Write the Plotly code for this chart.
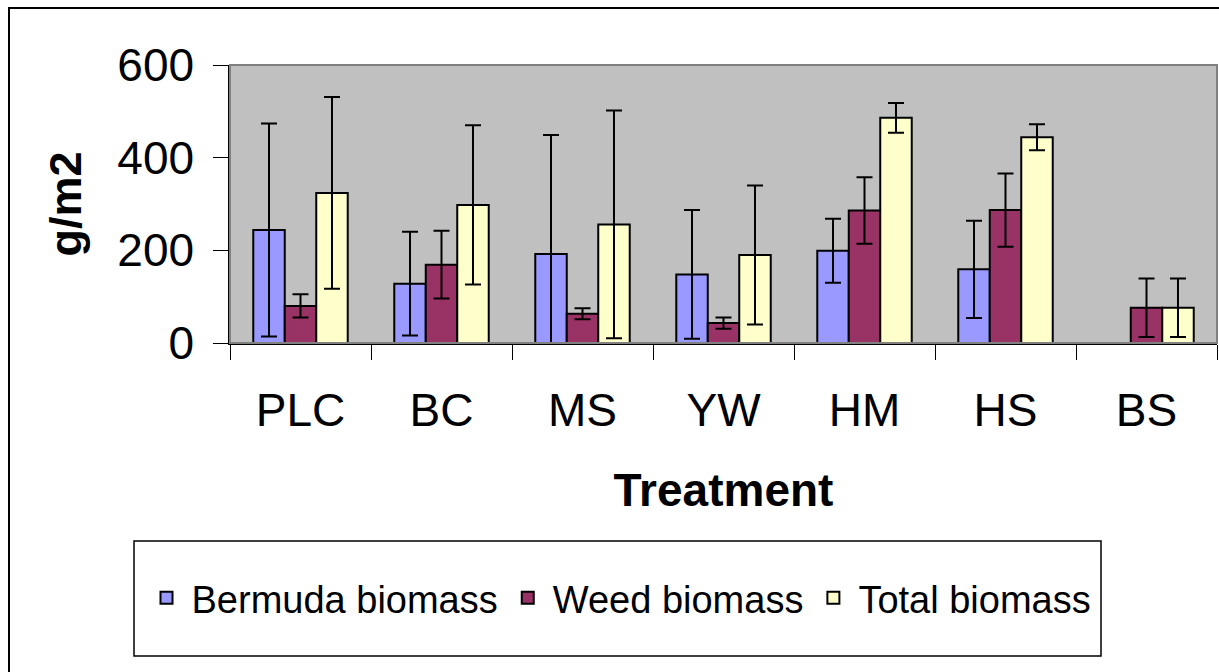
import plotly.graph_objects as go

categories = ["PLC", "BC", "MS", "YW", "HM", "HS", "BS"]
bermuda = [244, 128, 192, 148, 199, 159, 0]
bermuda_err = [230, 112, 257, 139, 69, 105, 0]
weed = [80, 169, 63, 43, 286, 287, 76]
weed_err = [25, 73, 12, 12, 72, 79, 63]
total = [324, 298, 256, 190, 486, 444, 76]
total_err = [207, 172, 246, 150, 32, 28, 63]
y_ticks = [0, 200, 400, 600]

FONT = "Liberation Sans, Arial, sans-serif"

series = [
    ("Bermuda biomass", bermuda, bermuda_err, "#9999FF"),
    ("Weed biomass", weed, weed_err, "#993366"),
    ("Total biomass", total, total_err, "#FFFFCC"),
]

fig = go.Figure()
for name, vals, errs, color in series:
    fig.add_trace(go.Bar(
        name=name, x=categories, y=vals,
        marker=dict(color=color, line=dict(color="black", width=2)),
        error_y=dict(type="data", array=errs, visible=True,
                     color="black", thickness=2, width=8),
    ))

L, R, T, B = 230, 2, 65, 329
W, H = 1219, 672
pw, ph = W - L - R, H - T - B

def px(x):
    return (x - L) / pw

def py(y):
    return (H - B - y) / ph

fig.update_layout(
    width=W, height=H,
    margin=dict(l=L, r=R, t=T, b=B, autoexpand=False),
    paper_bgcolor="white", plot_bgcolor="#C0C0C0",
    barmode="group", bargap=0.33, bargroupgap=0,
    font=dict(family=FONT, color="black"),
    showlegend=True,
    legend=dict(orientation="h", x=px(619), y=py(598), xanchor="center",
                yanchor="middle", font=dict(size=38, family=FONT),
                bgcolor="rgba(0,0,0,0)", borderwidth=0,
                itemwidth=40, tracegroupgap=0),
    xaxis=dict(
        type="category", tickson="boundaries", ticks="outside", ticklen=15,
        tickcolor="black", tickwidth=1,
        showline=True, linecolor="black", linewidth=1.5,
        showgrid=False, tickfont=dict(size=46, family=FONT),
        ticklabelstandoff=26,
        title=dict(text="<b>Treatment</b>", font=dict(size=46, family=FONT),
                   standoff=39),
    ),
    yaxis=dict(
        range=[0, 600], tickvals=y_ticks, ticks="outside", ticklen=15,
        tickcolor="black", tickwidth=1,
        showline=True, linecolor="black", linewidth=1.5,
        showgrid=False, zeroline=False, tickfont=dict(size=46, family=FONT),
        ticklabelstandoff=10,
        title=dict(text="<b>g/m2</b>", font=dict(size=45, family=FONT),
                   standoff=22),
    ),
    shapes=[
        dict(type="rect", xref="paper", yref="paper", x0=0, x1=1, y0=0, y1=1,
             line=dict(color="#808080", width=2), layer="above"),
        dict(type="rect", xref="paper", yref="paper",
             x0=px(134), x1=px(1101), y0=py(656), y1=py(541),
             line=dict(color="black", width=1.5), fillcolor="rgba(0,0,0,0)"),
        dict(type="rect", xref="paper", yref="paper",
             x0=px(9), x1=px(1230), y0=py(690), y1=py(8),
             line=dict(color="black", width=2), fillcolor="rgba(0,0,0,0)"),
    ],
)

fig.write_html(
    "out.html",
    config={"displayModeBar": False},
    post_script="document.body.style.margin='0';document.body.style.overflow='hidden';",
)
